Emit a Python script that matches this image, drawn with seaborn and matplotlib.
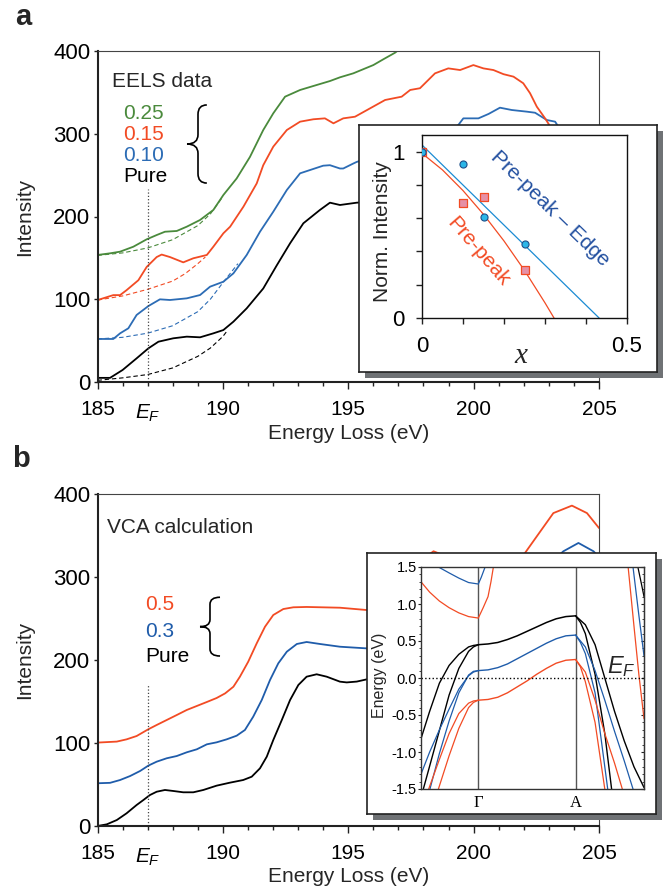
import matplotlib
matplotlib.use("Agg")
import matplotlib.pyplot as plt
import seaborn as sns
from matplotlib.path import Path
from matplotlib.patches import PathPatch
from matplotlib.ticker import FixedLocator, FormatStrFormatter, MultipleLocator

# ---------------- panel a : EELS spectra ----------------
E_PURE_A = [185.0, 185.5, 186.0, 186.56, 187.03, 187.43, 188.02, 188.56, 189.09, 189.62, 190.02,
            190.42, 190.95, 191.61, 192.15, 192.68, 193.21, 193.87, 194.27, 194.67, 195.34, 196.0,
            197.0, 198.0, 199.0, 200.0, 201.0, 202.0, 203.0, 204.0, 205.0]
I_PURE_A = [5, 5, 14.5, 28.6, 40.7, 48.7, 52.8, 54.8, 54, 58.8, 62.8, 72.9, 89, 113, 141, 167.6,
            191.8, 207.9, 216.7, 213.9, 216.7, 218, 225, 240, 252, 262, 270, 272, 262, 235, 212]

E_010_A = [185.0, 185.63, 185.9, 186.23, 186.56, 187.03, 187.49, 187.89, 188.56, 189.09, 189.49,
           190.02, 190.42, 190.95, 191.48, 192.01, 192.55, 193.08, 193.48, 194.0, 194.27, 194.67,
           194.8, 195.2, 195.34, 196.0, 197.0, 198.0, 199.0, 199.39, 199.59, 200.19, 200.6, 201.05,
           201.52, 202.12, 202.45, 202.92, 203.25, 203.37, 204.0, 205.0]
I_010_A = [52, 52, 58.8, 64.9, 81, 91.8, 99.9, 99.1, 101.1, 105.1, 115.2, 121.2, 131.3, 153.5,
           181.6, 205.8, 232, 252.2, 256.2, 261.4, 262, 258, 258, 264, 266, 272, 285, 295, 302,
           310.6, 318.6, 318.6, 324, 331.5, 328.7, 326.7, 325.4, 316.6, 314.6, 309, 285, 255]

E_015_A = [185.0, 185.63, 185.9, 186.16, 186.63, 186.96, 187.36, 187.56, 187.89, 188.42, 188.82,
           189.36, 189.62, 190.02, 190.29, 190.82, 191.35, 191.61, 192.01, 192.55, 193.08, 193.61,
           194.07, 194.41, 194.8, 195.27, 195.87, 196.47, 197.13, 197.47, 197.86, 198.46, 198.99,
           199.46, 199.99, 200.39, 200.79, 201.19, 201.59, 201.98, 202.25, 202.52, 202.85, 203.05,
           204.0, 205.0]
I_015_A = [99, 105, 105, 111, 123, 139, 151, 154, 151, 144.6, 149.5, 153.5, 163.5, 179.7, 187.7,
           211.9, 240, 262, 284.4, 304.5, 314.6, 317.5, 318.6, 312.6, 318.6, 320.6, 330.7, 340.8,
           344.8, 352.9, 355, 373, 379, 377, 383, 379, 377, 372, 369, 361, 349, 332.7, 318.6, 309,
           265, 235]

E_025_A = [185.0, 185.5, 185.9, 186.43, 186.96, 187.36, 187.69, 188.16, 188.56, 189.09, 189.62,
           190.02, 190.55, 191.08, 191.61, 192.01, 192.48, 193.08, 193.75, 194.27, 194.67, 195.2,
           196.0, 196.4, 196.87, 197.2]
I_025_A = [153.5, 155.5, 157.5, 163.5, 172.4, 177.6, 181.6, 182.5, 187.7, 195.8, 207.9, 226, 246,
           272, 304.5, 324.7, 344.8, 352.9, 359, 363.7, 368.2, 373, 383, 390, 398, 406]

# dashed background fits
BG_E_PURE = [185, 186, 187, 188, 189, 189.5, 190, 190.2]
BG_I_PURE = [2, 5, 9, 17, 31, 41, 55, 63]
BG_E_010 = [185, 186, 187, 188, 189, 189.5, 190, 190.6]
BG_I_010 = [52, 54, 59, 68, 85, 100, 120, 143]
BG_E_015 = [185, 186, 187, 188, 188.5, 189, 189.3]
BG_I_015 = [99, 104, 112, 122, 131, 143, 151]
BG_E_025 = [185, 186, 187, 188, 189, 189.5, 190]
BG_I_025 = [153, 156, 162, 172, 189, 203, 224]

# inset a : normalised intensities
X_CONC = [0, 0.1, 0.15, 0.25]
NI_EDGE = [1.0, 0.926, 0.61, 0.444]
NI_PRE = [1.0, 0.69, 0.728, 0.286]
FIT_EDGE_X = [0, 0.432]
FIT_EDGE_Y = [1.04, 0]
FIT_PRE_X = [0, 0.05, 0.1, 0.15, 0.2, 0.25, 0.3, 0.322]
FIT_PRE_Y = [0.99, 0.89, 0.766, 0.623, 0.463, 0.286, 0.091, 0]

# ---------------- panel b : VCA spectra ----------------
E_PURE_B = [185.0, 185.37, 185.77, 186.16, 186.56, 186.83, 187.09, 187.36, 187.69, 188.02, 188.42,
            188.82, 189.22, 189.75, 190.28, 190.81, 191.15, 191.48, 191.75, 192.01, 192.35, 192.68,
            193.01, 193.34, 193.74, 194.14, 194.67, 194.94, 195.34, 195.74, 196.5, 197.5, 198.5,
            199.5, 200.5, 201.5, 202.5, 203.5, 204.5, 205.0]
I_PURE_B = [0, 2, 7.2, 15.3, 25.3, 31.3, 37.3, 41.3, 43.4, 42.2, 40.6, 40.6, 43.4, 48.6, 52.2,
            55.4, 59.4, 69.5, 83.5, 103.6, 127.7, 151.8, 169.9, 179.9, 182.8, 179.9, 173.9, 173,
            174, 176.7, 180, 190, 195, 188, 185, 200, 230, 260, 265, 250]
E_03_B = [185.0, 185.5, 185.9, 186.3, 186.7, 187.03, 187.36, 187.76, 188.16, 188.56, 188.96,
          189.36, 189.75, 190.15, 190.55, 190.88, 191.21, 191.55, 191.88, 192.21, 192.55, 192.95,
          193.34, 193.87, 194.67, 195.74, 196.5, 197.5, 198.5, 199.5, 200.5, 201.5, 202.5, 203.0,
          203.58, 204.18, 204.78, 205.0]
I_03_B = [51.5, 52, 55.4, 60.2, 66.3, 72.8, 77.5, 81.6, 84.3, 88.8, 92.4, 98.4, 100.8, 104.4,
          108.8, 115.7, 131.7, 151.8, 175.9, 196, 210, 219.3, 221.7, 219.3, 216, 214, 215, 235,
          255, 245, 240, 255, 290, 315, 331, 341, 331, 324]
E_05_B = [185.0, 185.77, 186.16, 186.56, 187.03, 187.36, 187.76, 188.16, 188.56, 188.96, 189.36,
          189.75, 190.09, 190.42, 190.68, 191.01, 191.35, 191.68, 192.01, 192.41, 192.81, 193.34,
          194.67, 195.74, 196.5, 197.2, 197.9, 198.4, 198.9, 199.5, 200.3, 201.2, 201.7, 202.05,
          202.52, 203.18, 203.92, 204.52, 205.0]
I_05_B = [100.5, 101.7, 104.4, 108.4, 116.6, 121.7, 127.7, 133.7, 139.8, 144.6, 149.4, 154.2,
          159.8, 167.8, 179.9, 197.9, 220.1, 240.1, 254.2, 261.4, 263.5, 263.9, 263, 260.2, 263,
          285, 320, 331, 325, 305, 295, 300, 318, 329, 349, 377, 386, 377, 359]

# inset b : band structure (k: Gamma = 0, A = 1)
K_GA = [0, 0.1, 0.2, 0.3, 0.4, 0.5, 0.6, 0.7, 0.8, 0.9, 1.0]
E_GA_PURE = [0.45, 0.46, 0.48, 0.52, 0.57, 0.63, 0.69, 0.75, 0.80, 0.83, 0.84]
E_GA_X03 = [0.10, 0.11, 0.14, 0.19, 0.26, 0.33, 0.40, 0.47, 0.53, 0.57, 0.58]
E_GA_X05 = [-0.30, -0.29, -0.26, -0.20, -0.12, -0.04, 0.05, 0.13, 0.20, 0.24, 0.25]

K_L_PURE_OUT = [-0.589, -0.5, -0.4, -0.3, -0.2, -0.1, -0.05, 0]
E_L_PURE_OUT = [-0.82, -0.45, -0.07, 0.17, 0.32, 0.42, 0.44, 0.45]
K_L_PURE_IN = [-0.565, -0.5, -0.4, -0.3, -0.2, -0.1, -0.05, 0]
E_L_PURE_IN = [-1.5, -1.19, -0.71, -0.23, 0.13, 0.36, 0.42, 0.45]
K_L_X03_OUT = [-0.589, -0.5, -0.4, -0.3, -0.2, -0.1, -0.05, 0]
E_L_X03_OUT = [-1.30, -1.0, -0.7, -0.42, -0.15, 0.03, 0.08, 0.10]
K_L_X03_IN = [-0.497, -0.4, -0.3, -0.2, -0.1, -0.05, 0]
E_L_X03_IN = [-1.5, -1.02, -0.58, -0.2, 0.04, 0.09, 0.10]
K_L_X05_OUT = [-0.51, -0.4, -0.3, -0.2, -0.1, -0.05, 0]
E_L_X05_OUT = [-1.5, -1.1, -0.75, -0.48, -0.34, -0.31, -0.30]
K_L_X05_IN = [-0.41, -0.3, -0.2, -0.1, -0.05, 0]
E_L_X05_IN = [-1.5, -1.05, -0.68, -0.40, -0.33, -0.30]

K_R_PURE_1 = [1.0, 1.05, 1.1, 1.2, 1.3, 1.37]
E_R_PURE_1 = [0.84, 0.75, 0.60, 0.05, -0.75, -1.5]
K_R_PURE_2 = [1.0, 1.1, 1.2, 1.3, 1.4, 1.5, 1.6, 1.703]
E_R_PURE_2 = [0.84, 0.72, 0.45, 0.0, -0.45, -0.85, -1.2, -1.48]
K_R_X03_1 = [1.0, 1.05, 1.1, 1.2, 1.3, 1.33]
E_R_X03_1 = [0.58, 0.48, 0.33, -0.2, -1.2, -1.5]
K_R_X03_2 = [1.0, 1.1, 1.2, 1.3, 1.4, 1.5, 1.59]
E_R_X03_2 = [0.58, 0.42, 0.1, -0.3, -0.72, -1.12, -1.5]
K_R_X05_1 = [1.0, 1.05, 1.1, 1.2, 1.3]
E_R_X05_1 = [0.25, 0.15, -0.05, -0.6, -1.5]
K_R_X05_2 = [1.0, 1.1, 1.2, 1.3, 1.4, 1.48]
E_R_X05_2 = [0.25, 0.08, -0.3, -0.75, -1.15, -1.5]

K_UP_X03_L = [-0.41, -0.3, -0.2, -0.1, 0, 0.03, 0.07]
E_UP_X03_L = [1.5, 1.42, 1.35, 1.29, 1.27, 1.36, 1.5]
K_UP_X05_L = [-0.589, -0.5, -0.4, -0.3, -0.2, -0.1, 0, 0.05, 0.10, 0.13, 0.155]
E_UP_X05_L = [1.30, 1.16, 1.04, 0.95, 0.88, 0.83, 0.81, 0.95, 1.10, 1.30, 1.5]
K_UP_X05_R = [1.54, 1.6, 1.65, 1.703]
E_UP_X05_R = [1.5, 0.7, 0.05, -0.55]
K_UP_X03_R = [1.59, 1.65, 1.703]
E_UP_X03_R = [1.5, 0.85, 0.30]
K_UP_PURE_R = [1.64, 1.68, 1.703]
E_UP_PURE_R = [1.5, 1.25, 1.1]

EF = 187
EF_TOP_A = 233
EF_TOP_B = 170
MINOR_E = [186, 187, 188, 189, 191, 192, 193, 194, 196, 197, 198, 199, 201, 202, 203, 204]

GREEN = "#4a8a3c"
RED = "#f24b24"
BLUE = "#2c6cb5"
BLUE_B = "#1f5caa"

sns.set_style("ticks")
plt.rcParams["font.family"] = ["Liberation Sans", "DejaVu Sans"]
plt.rcParams["mathtext.fontset"] = "custom"
plt.rcParams["mathtext.rm"] = "Liberation Sans"
plt.rcParams["mathtext.it"] = "Liberation Sans:italic"
plt.rcParams["axes.unicode_minus"] = False
plt.rcParams["xtick.color"] = "#222222"
plt.rcParams["ytick.color"] = "#222222"
plt.rcParams["xtick.labelcolor"] = "black"
plt.rcParams["ytick.labelcolor"] = "black"

W, H = 667, 890


def px_rect(x0, y0, x1, y1):
    return [x0 / W, 1 - y1 / H, (x1 - x0) / W, (y1 - y0) / H]


def line(ax, x, y, color, lw=1.3, **kw):
    sns.lineplot(x=x, y=y, ax=ax, color=color, lw=lw, estimator=None, sort=False, **kw)


def brace(ax, x_tip, x_stem, x_end, y_top, y_bot):
    h = y_top - y_bot
    mid = (y_top + y_bot) / 2
    c = 0.12 * h
    verts = [(x_end, y_top), (x_stem, y_top), (x_stem, y_top - c), (x_stem, mid + c),
             (x_stem, mid), (x_tip, mid), (x_stem, mid), (x_stem, mid - c),
             (x_stem, y_bot + c), (x_stem, y_bot), (x_end, y_bot)]
    codes = [Path.MOVETO, Path.CURVE3, Path.CURVE3, Path.LINETO, Path.CURVE3, Path.CURVE3,
             Path.CURVE3, Path.CURVE3, Path.LINETO, Path.CURVE3, Path.CURVE3]
    ax.add_patch(PathPatch(Path(verts, codes), transform=ax.transAxes, fc="none",
                           ec="black", lw=1.2, clip_on=False))


def style_main(ax):
    ax.set_xlim(185, 205)
    ax.set_ylim(0, 400)
    ax.set_xticks([185, 190, 195, 200, 205])
    ax.set_xticklabels(["185", "190", "195", "200", "205"])
    ax.xaxis.set_minor_locator(FixedLocator(MINOR_E))
    ax.set_xticklabels(["$E_F$" if e == EF else "" for e in MINOR_E], minor=True)
    ax.set_yticks([0, 100, 200, 300, 400])
    ax.tick_params(axis="x", which="major", length=5, width=1, pad=8, labelsize=15)
    ax.tick_params(axis="x", which="minor", length=3, width=1, pad=12, labelsize=15)
    ax.tick_params(axis="y", length=3.2, width=1, pad=2, labelsize=16)
    for s in ["left", "bottom"]:
        ax.spines[s].set_linewidth(1.5)
        ax.spines[s].set_color("#222222")
    for s in ["top", "right"]:
        ax.spines[s].set_linewidth(0.8)
        ax.spines[s].set_color("#444444")
    ax.set_xlabel("Energy Loss (eV)", fontsize=15)
    ax.set_ylabel("Intensity", fontsize=15)
    ax.yaxis.set_label_coords(-0.127, 0.5)


def add_frame(fig, x0, y0, x1, y1):
    sh = fig.add_axes(px_rect(x0 + 6, y0 + 6, x1 + 6, y1 + 6))
    sh.set_facecolor("#6f7275")
    fr = fig.add_axes(px_rect(x0, y0, x1, y1))
    fr.set_facecolor("white")
    for a in (sh, fr):
        a.set_xticks([])
        a.set_yticks([])
    for s in sh.spines.values():
        s.set_visible(False)
    for s in fr.spines.values():
        s.set_linewidth(1.2)
        s.set_color("#222222")


fig = plt.figure(figsize=(6.67, 8.9), dpi=100)

# ---------------- panel a ----------------
ax_a = fig.add_axes(px_rect(97.5, 51, 599, 382))
for e, i, c in [(E_PURE_A, I_PURE_A, "black"), (E_010_A, I_010_A, BLUE),
                (E_015_A, I_015_A, RED), (E_025_A, I_025_A, GREEN)]:
    line(ax_a, e, i, c, lw=1.3)
for e, i, c in [(BG_E_PURE, BG_I_PURE, "black"), (BG_E_010, BG_I_010, BLUE),
                (BG_E_015, BG_I_015, RED), (BG_E_025, BG_I_025, GREEN)]:
    line(ax_a, e, i, c, lw=0.8, linestyle=(0, (4, 2.5)))
ax_a.vlines(EF, 0, EF_TOP_A, colors="#444444", linestyles=":", lw=0.9)
style_main(ax_a)
ax_a.xaxis.set_label_coords(0.5, -0.127)

ax_a.text(185.57, 356, "EELS data", fontsize=15, va="baseline")
for y, t, c in [(317.4, "0.25", GREEN), (292.4, "0.15", RED), (267.4, "0.10", BLUE), (242, "Pure", "black")]:
    ax_a.text(186.03, y, t, fontsize=15, color=c, va="baseline")
brace(ax_a, 0.1785, 0.2004, 0.218, 0.837, 0.601)

add_frame(fig, 359, 125, 657, 372)
ins_a = fig.add_axes(px_rect(422, 135, 627, 318))
line(ins_a, FIT_EDGE_X, FIT_EDGE_Y, "#1b8bd3", lw=0.9)
line(ins_a, FIT_PRE_X, FIT_PRE_Y, RED, lw=0.9)
sns.scatterplot(x=X_CONC, y=NI_PRE, ax=ins_a, marker="s", s=36, color="#e690a6",
                edgecolor=RED, linewidth=0.9, zorder=3)
sns.scatterplot(x=X_CONC, y=NI_EDGE, ax=ins_a, marker="o", s=26, color="#2bb6e8",
                edgecolor="#1d4f8a", linewidth=0.8, zorder=4)
ins_a.set_xlim(0, 0.5)
ins_a.set_ylim(0, 1.1)
ins_a.set_xticks([0, 0.1, 0.2, 0.3, 0.4, 0.5])
ins_a.set_xticklabels(["0", "", "", "", "", "0.5"])
ins_a.set_yticks([0, 0.2, 0.4, 0.6, 0.8, 1.0])
ins_a.set_yticklabels(["0", "", "", "", "", "1"])
ins_a.tick_params(axis="x", length=4.3, width=1, pad=8.6, labelsize=16)
ins_a.tick_params(axis="y", length=4.3, width=1, pad=8, labelsize=16)
for s in ins_a.spines.values():
    s.set_linewidth(1.0)
    s.set_color("#111111")
ins_a.set_ylabel("Norm. Intensity", fontsize=15)
ins_a.yaxis.set_label_coords(-0.146, 0.47)
ins_a.text(0.48, -0.245, "x", transform=ins_a.transAxes, fontsize=21,
           family="Liberation Serif", style="italic", ha="center", va="baseline")
ins_a.text(0.312, 0.657, "Pre-peak \u2013 Edge", fontsize=15, color="#2350a0",
           rotation=-44, ha="center", va="center", rotation_mode="anchor")
ins_a.text(0.137, 0.398, "Pre-peak", fontsize=15, color=RED,
           rotation=-49, ha="center", va="center", rotation_mode="anchor")

# ---------------- panel b ----------------
ax_b = fig.add_axes(px_rect(97.5, 494, 599, 826))
for e, i, c in [(E_PURE_B, I_PURE_B, "black"), (E_03_B, I_03_B, BLUE_B), (E_05_B, I_05_B, RED)]:
    line(ax_b, e, i, c, lw=1.3)
ax_b.vlines(EF, 0, EF_TOP_B, colors="#444444", linestyles=":", lw=0.9)
style_main(ax_b)
ax_b.xaxis.set_label_coords(0.5, -0.122)
ax_b.text(185.38, 353.4, "VCA calculation", fontsize=15, va="baseline")
for y, t, c in [(260.2, "0.5", RED), (228, "0.3", BLUE_B), (198, "Pure", "black")]:
    ax_b.text(186.89, y, t, fontsize=15, color=c, va="baseline")
brace(ax_b, 0.2044, 0.2243, 0.2443, 0.689, 0.512)

add_frame(fig, 367, 553, 656, 814)
ins_b = fig.add_axes(px_rect(421, 567, 644, 789))
bands = [
    (K_GA, E_GA_PURE, "black", 1.1), (K_GA, E_GA_X03, BLUE_B, 1.0), (K_GA, E_GA_X05, RED, 1.0),
    (K_L_PURE_OUT, E_L_PURE_OUT, "black", 1.0), (K_L_PURE_IN, E_L_PURE_IN, "black", 1.0),
    (K_L_X03_OUT, E_L_X03_OUT, BLUE_B, 0.9), (K_L_X03_IN, E_L_X03_IN, BLUE_B, 0.9),
    (K_L_X05_OUT, E_L_X05_OUT, RED, 0.9), (K_L_X05_IN, E_L_X05_IN, RED, 0.9),
    (K_R_PURE_1, E_R_PURE_1, "black", 1.0), (K_R_PURE_2, E_R_PURE_2, "black", 1.0),
    (K_R_X03_1, E_R_X03_1, BLUE_B, 0.9), (K_R_X03_2, E_R_X03_2, BLUE_B, 0.9),
    (K_R_X05_1, E_R_X05_1, RED, 0.9), (K_R_X05_2, E_R_X05_2, RED, 0.9),
    (K_UP_X03_L, E_UP_X03_L, BLUE_B, 0.9), (K_UP_X05_L, E_UP_X05_L, RED, 0.9),
    (K_UP_X05_R, E_UP_X05_R, RED, 0.9), (K_UP_X03_R, E_UP_X03_R, BLUE_B, 0.9),
    (K_UP_PURE_R, E_UP_PURE_R, "black", 0.9),
]
for k, en, c, lw in bands:
    line(ins_b, k, en, c, lw=lw)
ins_b.axvline(0, color="#555555", lw=1.0, zorder=1)
ins_b.axvline(1, color="#555555", lw=1.0, zorder=1)
ins_b.axhline(0, color="black", ls=":", lw=1.0)
ins_b.set_xlim(-0.589, 1.703)
ins_b.set_ylim(-1.5, 1.5)
ins_b.set_xticks([0, 1])
ins_b.set_xticklabels(["\u0393", "A"], family="Liberation Serif", fontsize=12)
ins_b.tick_params(axis="x", length=0, pad=4)
ins_b.yaxis.set_major_locator(MultipleLocator(0.5))
ins_b.yaxis.set_minor_locator(MultipleLocator(0.1))
ins_b.yaxis.set_major_formatter(FormatStrFormatter("%.1f"))
ins_b.tick_params(axis="y", which="major", length=2.5, width=0.8, pad=0.5, labelsize=10.5)
ins_b.tick_params(axis="y", which="minor", length=1.5, width=0.6)
sec = ins_b.secondary_yaxis("right")
sec.yaxis.set_major_locator(MultipleLocator(0.5))
sec.yaxis.set_minor_locator(MultipleLocator(0.1))
sec.tick_params(axis="y", which="major", direction="in", length=2.5, width=0.8, labelright=False)
sec.tick_params(axis="y", which="minor", direction="in", length=1.5, width=0.6)
for s in ins_b.spines.values():
    s.set_linewidth(1.0)
    s.set_color("#333333")
ins_b.set_ylabel("Energy (eV)", fontsize=11.5)
ins_b.yaxis.set_label_coords(-0.152, 0.51)
ins_b.text(1.47, 0.16, "$E_F$", fontsize=17, ha="center", va="center")

# panel letters
fig.text(0.0225, 0.9719, "a", fontsize=21, fontweight="bold", va="baseline")
fig.text(0.0175, 0.4756, "b", fontsize=21, fontweight="bold", va="baseline")

fig.savefig("out.png", dpi=100)
